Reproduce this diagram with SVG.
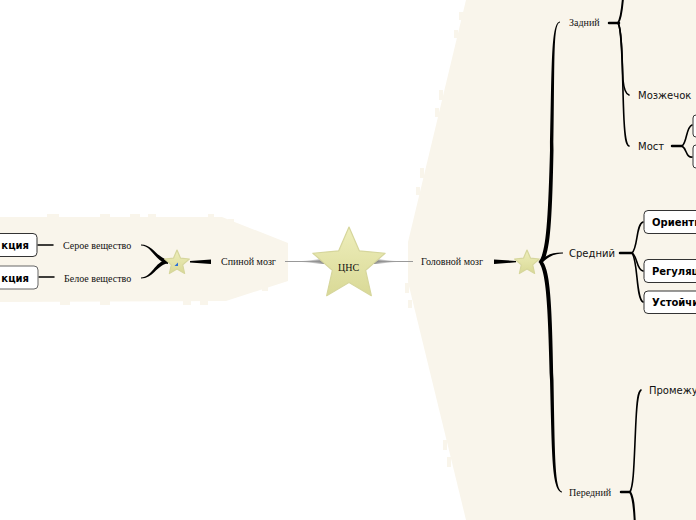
<svg xmlns="http://www.w3.org/2000/svg" width="696" height="520" viewBox="0 0 696 520">
<defs>
<linearGradient id="starGrad" x1="0" y1="0" x2="0" y2="1">
<stop offset="0" stop-color="#eeeebb"/>
<stop offset="1" stop-color="#d9d996"/>
</linearGradient>
<linearGradient id="grayL" x1="0" y1="0" x2="1" y2="0">
<stop offset="0" stop-color="#aaaaaa" stop-opacity="0"/>
<stop offset="1" stop-color="#888888"/>
</linearGradient>
<linearGradient id="grayR" x1="0" y1="0" x2="1" y2="0">
<stop offset="0" stop-color="#888888"/>
<stop offset="1" stop-color="#aaaaaa" stop-opacity="0"/>
</linearGradient>
<path id="bigStar" d="M0,-38 L10.29,-14.16 L36.14,-11.74 L16.64,5.41 L22.34,30.74 L0,17.5 L-22.34,30.74 L-16.64,5.41 L-36.14,-11.74 L-10.29,-14.16 Z"/>
<path id="smallStar" d="M0,-13 L3.53,-4.85 L12.36,-4.02 L5.71,1.85 L7.64,10.52 L0,6 L-7.64,10.52 L-5.71,1.85 L-12.36,-4.02 L-3.53,-4.85 Z"/>
</defs>
<style>
.bg{fill:#f9f5eb;}
.star{fill:url(#starGrad);stroke:#d6d69c;stroke-width:1.2;stroke-linejoin:round;}
.serif{font-family:"Liberation Serif","Times New Roman",serif;font-size:10px;fill:#111;}
.sans{font-family:"DejaVu Sans",Verdana,sans-serif;font-size:10px;fill:#111;}
.bold{font-family:"DejaVu Sans",Verdana,sans-serif;font-size:10px;font-weight:bold;fill:#000;}
.box{fill:#ffffff;stroke:#333;stroke-width:1;}
.box2{fill:#ffffff;stroke:#666;stroke-width:1;}
.ln{fill:none;stroke:#000;stroke-linecap:round;}
.fillk{fill:#000;}
</style>

<g id="backgrounds">
<polygon class="bg" points="466,0 408,242 408,282 466,520 696,520 696,0"/>
<rect class="bg" x="459" y="12" width="4" height="8"/>
<rect class="bg" x="454" y="30" width="4" height="8"/>
<rect class="bg" x="439" y="90" width="4" height="10"/>
<rect class="bg" x="435" y="108" width="4" height="9"/>
<rect class="bg" x="420" y="168" width="4" height="10"/>
<rect class="bg" x="416" y="187" width="4" height="8"/>
<rect class="bg" x="405" y="283" width="4" height="10"/>
<rect class="bg" x="408" y="300" width="4" height="8"/>
<rect class="bg" x="424" y="333" width="4" height="10"/>
<rect class="bg" x="427" y="345" width="4" height="8"/>
<rect class="bg" x="443" y="440" width="4" height="10"/>
<rect class="bg" x="447" y="457" width="4" height="10"/>
<polygon class="bg" points="0,217 222,217 288,243 288,281 226,301 0,302"/>
<rect class="bg" x="47" y="214" width="12" height="4"/>
<rect class="bg" x="100" y="214" width="10" height="4"/>
<rect class="bg" x="130" y="214" width="10" height="4"/>
<rect class="bg" x="148" y="214" width="8" height="4"/>
<rect class="bg" x="208" y="214" width="6" height="4"/>
<rect class="bg" x="228" y="219" width="6" height="4"/>
<rect class="bg" x="60" y="301" width="10" height="4"/>
<rect class="bg" x="100" y="301" width="10" height="4"/>
<rect class="bg" x="183" y="301" width="8" height="4"/>
<rect class="bg" x="200" y="301" width="8" height="4"/>
<rect class="bg" x="262" y="287" width="6" height="4"/>
</g>

<g id="connectors">
<line x1="285" y1="261.5" x2="413" y2="261.5" stroke="#999" stroke-width="1"/>
<polygon points="296,261.5 324,259 324,264" fill="url(#grayL)"/>
<polygon points="374,259 374,264 402,261.5" fill="url(#grayR)"/>
<polygon class="fillk" points="494,259.5 494,264 516,262.3 516,261"/>
<polygon class="fillk" points="190,261 190,262.5 211,264 211,259.5"/>
<path class="fillk" d="M141,244.5 C153,244.5 156,257 168,260 L168,264 C154,261 152,245.5 141,245.5 Z"/>
<path class="fillk" d="M141,278.5 C153,278.5 156,266 168,263 L168,259 C154,262 152,277.5 141,277.5 Z"/>
<line class="ln" x1="38" y1="245" x2="53" y2="245" stroke-width="1.5"/>
<line class="ln" x1="39" y1="277" x2="54" y2="277" stroke-width="1.5"/>
<path class="fillk" d="M560,21.5 C551,23 552,60 550,150 C548,225 546,252 538.5,262.5 L543,262 C550,252 552,225 553.5,150 C555,60 553,23.5 560,22.5 Z"/>
<path class="fillk" d="M538.5,261.5 C546,272 548,300 550,380 C552,460 552,490 562,492.5 L562,491.5 C555,489 555,460 553.5,380 C552,300 550,272 543,262 Z"/>
<path class="fillk" d="M539,261 C548,254 553,252.3 563,252.5 L563,253.5 C553,253.5 549,257 541,263.5 Z"/>
<line class="ln" x1="609" y1="23" x2="619" y2="23" stroke-width="2.5"/>
<path class="ln" d="M618,23 C621,19 622,10 623,-2" stroke-width="2"/>
<path class="ln" d="M618,23 C622,28 622,60 623,80 C624,90 626,94 629,95" stroke-width="1.6"/>
<path class="ln" d="M618,23 C623,30 622,80 624,120 C625,138 626,145 629,146" stroke-width="1.6"/>
<line class="ln" x1="672" y1="146" x2="682" y2="146" stroke-width="2.5"/>
<path class="ln" d="M682,146 C687,143 686,127 692,125" stroke-width="1.6"/>
<path class="ln" d="M682,146 C687,149 686,158 692,157" stroke-width="1.6"/>
<line class="ln" x1="620" y1="253" x2="632" y2="253" stroke-width="2.5"/>
<path class="ln" d="M632,253 C638,248 636,224 643,222" stroke-width="1.6"/>
<path class="ln" d="M632,253 C638,257 636,269 643,271" stroke-width="1.6"/>
<path class="ln" d="M632,253 C638,260 636,299 643,302" stroke-width="1.6"/>
<line class="ln" x1="621" y1="492" x2="630" y2="492" stroke-width="2.5"/>
<path class="ln" d="M630,492 C634,485 634,460 636,420 C637,400 638,392 641,390" stroke-width="1.6"/>
<path class="ln" d="M630,492 C634,498 634,510 635,525" stroke-width="2"/>
</g>

<g id="node-cns">
<use href="#bigStar" class="star" transform="translate(349,265)"/>
<text class="serif" x="348.5" y="271" text-anchor="middle">ЦНС</text>
</g>

<g id="node-golovnoy">
<text class="serif" x="421" y="265">Головной мозг</text>
</g>
<g id="node-star-right">
<use href="#smallStar" class="star" transform="translate(527,263)"/>
</g>
<g id="node-spinnoy">
<text class="serif" x="221" y="265">Спиной мозг</text>
</g>
<g id="node-star-left">
<use href="#smallStar" class="star" transform="translate(177,263)"/>
<polygon points="174.5,266 178,266 178,262.5" fill="#2a6fd6"/>
</g>
<g id="node-seroe">
<text class="serif" x="63" y="249">Серое вещество</text>
</g>
<g id="node-beloe">
<text class="serif" x="64" y="281.5">Белое вещество</text>
</g>
<g id="node-func1">
<rect class="box" x="-10" y="233.5" width="47" height="23" rx="4"/>
<text class="bold" x="29" y="249" text-anchor="end">кция</text>
</g>
<g id="node-func2">
<rect class="box2" x="-10" y="266" width="48" height="23" rx="4"/>
<text class="bold" x="29" y="281.5" text-anchor="end">кция</text>
</g>

<g id="node-zadniy">
<text class="serif" x="569" y="25.5">Задний</text>
</g>
<g id="node-mozzhechok">
<text class="sans" x="638" y="98.5">Мозжечок</text>
</g>
<g id="node-most">
<text class="sans" x="638" y="149.5">Мост</text>
</g>
<g id="node-most-a">
<rect class="box" x="693" y="115" width="20" height="22" rx="3"/>
</g>
<g id="node-most-b">
<rect class="box" x="693" y="145" width="20" height="23" rx="3"/>
</g>

<g id="node-sredniy">
<text class="sans" x="569" y="256.5">Средний</text>
</g>
<g id="node-orient">
<rect class="box" x="644" y="210.5" width="70" height="23" rx="4"/>
<text class="bold" x="652" y="225.5">Ориенти</text>
</g>
<g id="node-regul">
<rect class="box" x="644" y="259.5" width="70" height="23" rx="4"/>
<text class="bold" x="652" y="274.5">Регуляц</text>
</g>
<g id="node-ustoych">
<rect class="box" x="644" y="291" width="70" height="22.5" rx="4"/>
<text class="bold" x="652" y="306">Устойчи</text>
</g>

<g id="node-peredniy">
<text class="serif" x="569" y="495.5">Передний</text>
</g>
<g id="node-promezh">
<text class="sans" x="649" y="393.5">Промежу</text>
</g>
</svg>
